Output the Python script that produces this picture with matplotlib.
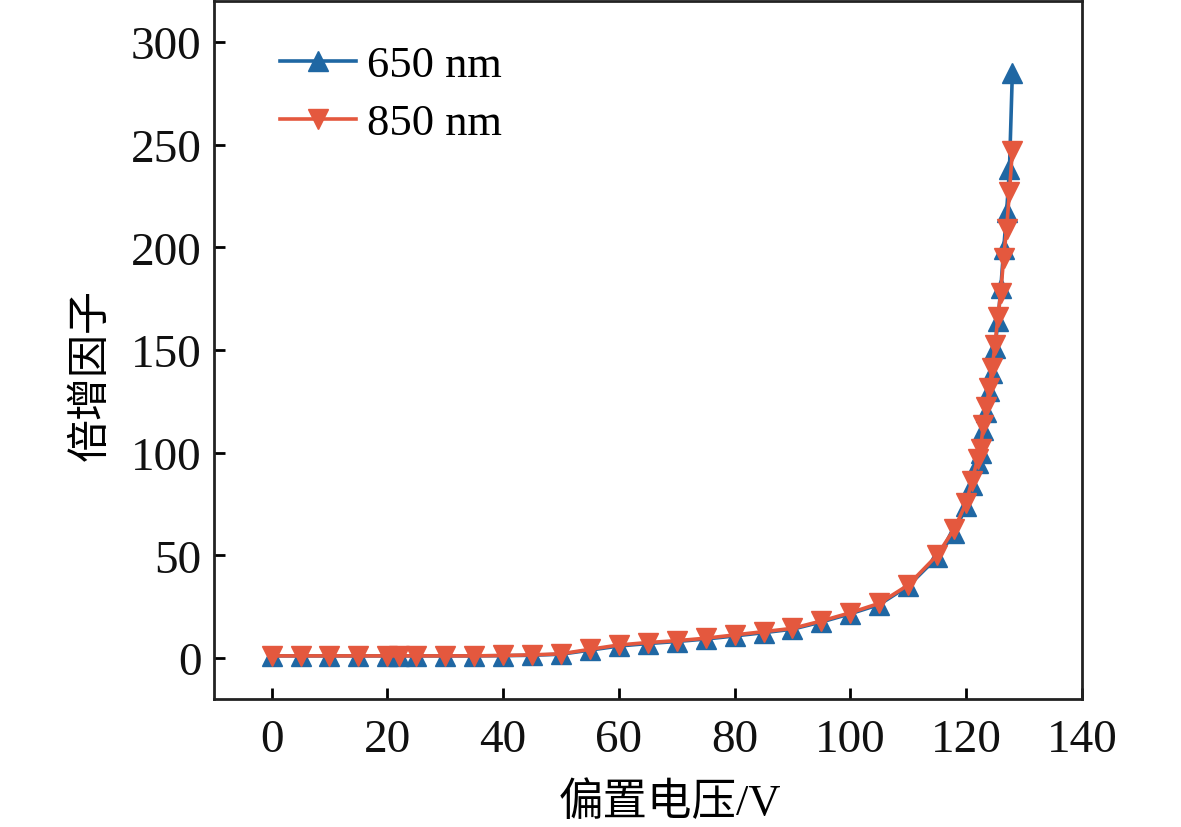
import matplotlib
matplotlib.use("Agg")
import matplotlib.pyplot as plt

voltage = [0, 5, 10, 15, 20, 22, 25, 30, 35, 40, 45, 50, 55, 60, 65, 70, 75, 80, 85, 90,
           95, 100, 105, 110, 115, 118, 120, 121, 122, 122.5, 123, 123.5, 124, 124.5,
           125, 125.5, 126, 126.5, 127, 127.5, 128]
gain_650 = [1, 1, 1, 1, 1, 1, 1, 1, 1, 1.1, 1.3, 1.8, 3.8, 5.8, 7, 8, 9.2, 10.7, 12.3, 14,
            17.5, 21.5, 26, 35, 49, 61, 74, 84, 95, 100, 111, 120, 130, 139,
            151, 164, 180, 199, 217, 238, 285]
gain_850 = [1, 1, 1, 1, 1, 1, 1, 1, 1, 1.2, 1.5, 2, 4.2, 6.3, 7.5, 8.4, 9.6, 11.2, 12.8, 14.4,
            18, 22, 26.6, 35.5, 50, 63, 75.5, 86, 97, 102, 113.5, 122, 131.5, 141,
            152.5, 166, 178, 195, 209, 227, 247]
labels = ["650 nm", "850 nm"]
xticks = [0, 20, 40, 60, 80, 100, 120, 140]
yticks = [0, 50, 100, 150, 200, 250, 300]

serif = ["Liberation Serif", "DejaVu Serif"]
mixed = ["Liberation Serif", "Noto Sans CJK SC", "DejaVu Sans"]

fig = plt.figure(figsize=(11.81, 8.28), dpi=100)
ax = fig.add_axes([0.181, 0.1546, 0.735, 0.843])

ax.plot(voltage, gain_650, color="#1f67a3", lw=2.6, marker="^", ms=14, label=labels[0], zorder=3)
ax.plot(voltage, gain_850, color="#e4583e", lw=2.6, marker="v", ms=14, label=labels[1], zorder=4)

ax.set_xlim(-10, 140)
ax.set_ylim(-20, 320)
ax.set_xticks(xticks)
ax.set_yticks(yticks)
ax.tick_params(direction="in", length=8, width=2, top=False, right=False)
ax.tick_params(axis="x", pad=14)
ax.tick_params(axis="y", pad=9)
for lab in ax.get_xticklabels() + ax.get_yticklabels():
    lab.set_family(serif)
    lab.set_fontsize(34)
    lab.set_color("#111111")
for s in ax.spines.values():
    s.set_linewidth(2)
    s.set_color("#222222")

ax.set_xlabel("偏置电压/V", family=mixed, fontsize=32)
ax.set_ylabel("倍增因子", family=mixed, fontsize=31)
ax.xaxis.set_label_coords(0.526, -0.118)
ax.yaxis.set_label_coords(-0.117, 0.465)

leg = ax.legend(loc="upper left", frameon=False, prop={"family": serif, "size": 32},
                handlelength=1.7, handletextpad=0.25, labelspacing=0.4,
                borderaxespad=0.0, bbox_to_anchor=(0.056, 0.962))

fig.savefig("out.png", dpi=100)
